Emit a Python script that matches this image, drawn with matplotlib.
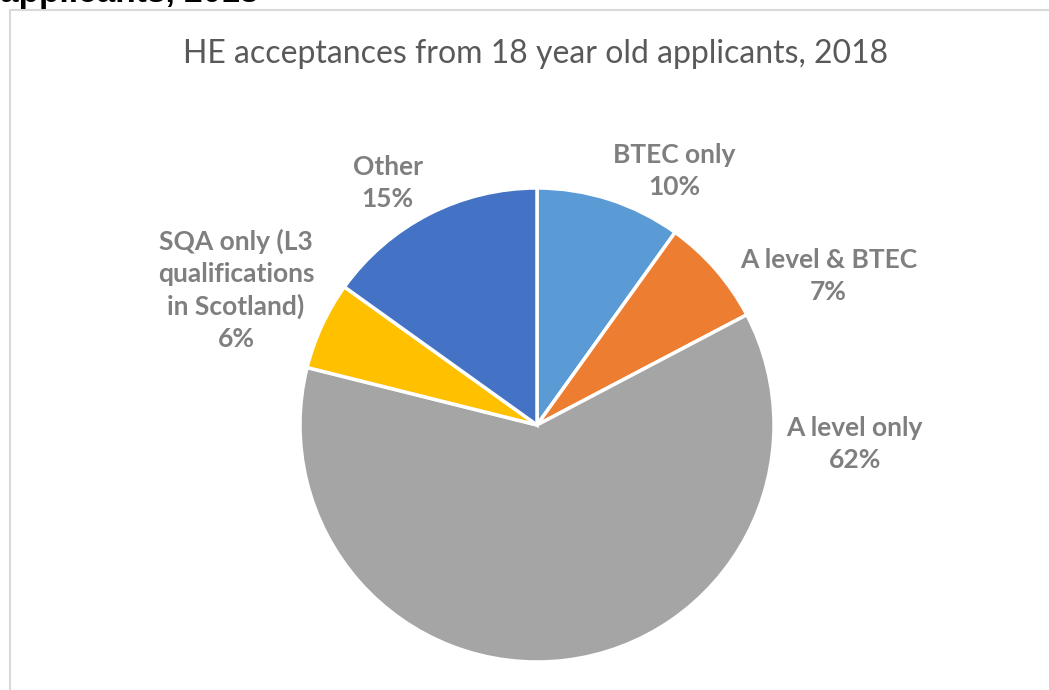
import matplotlib.pyplot as plt

# data (clockwise from 12 o'clock)
categories = ['BTEC only', 'A level & BTEC', 'A level only',
              'SQA only (L3\nqualifications\nin Scotland)', 'Other']
shares = [9.9, 7.4, 61.6, 6.0, 15.1]
colors = ['#5B9BD5', '#ED7D31', '#A5A5A5', '#FFC000', '#4472C4']

title = 'HE acceptances from 18 year old applicants, 2018'

W, H = 1049, 690
fig = plt.figure(figsize=(W / 100, H / 100), dpi=100)
ax = fig.add_axes([0, 0, 1, 1])

# chart frame (only top and left edges visible in the crop)
ax.plot([10, 10, W], [0, H - 10, H - 10], color='#D9D9D9', lw=1.5,
        solid_joinstyle='miter')

# cut-off heading above the chart
ax.text(0, H - 2, 'applicants, 2018', fontsize=24, fontweight='bold',
        family='Liberation Sans', color='black', ha='left', va='baseline')

ax.text(536, H - 54, title, fontsize=23, family='Lato', color='#595959',
        ha='center', va='center')

cx, cy, r = 537, H - 425, 237
wedges, _ = ax.pie(shares, colors=colors, startangle=90, counterclock=False,
                   center=(cx, cy), radius=r, frame=True,
                   wedgeprops=dict(edgecolor='white', linewidth=2.5))
ax.set_xlim(0, W)
ax.set_ylim(0, H)
ax.set_aspect('equal')
ax.axis('off')

# label placement (relative to pie radius)
label_offsets = [(0.58, 1.07), (1.23, 0.63), (1.34, -0.08),
                 (-1.27, 0.57), (-0.63, 1.02)]
for name, v, (ox, oy) in zip(categories, shares, label_offsets):
    ax.text(cx + ox * r, cy + oy * r, f'{name}\n{v:.0f}%', fontsize=19,
            fontweight='bold', family='Lato', color='#7F7F7F',
            ha='center', va='center', linespacing=1.4)

fig.savefig('out.png', dpi=100)
